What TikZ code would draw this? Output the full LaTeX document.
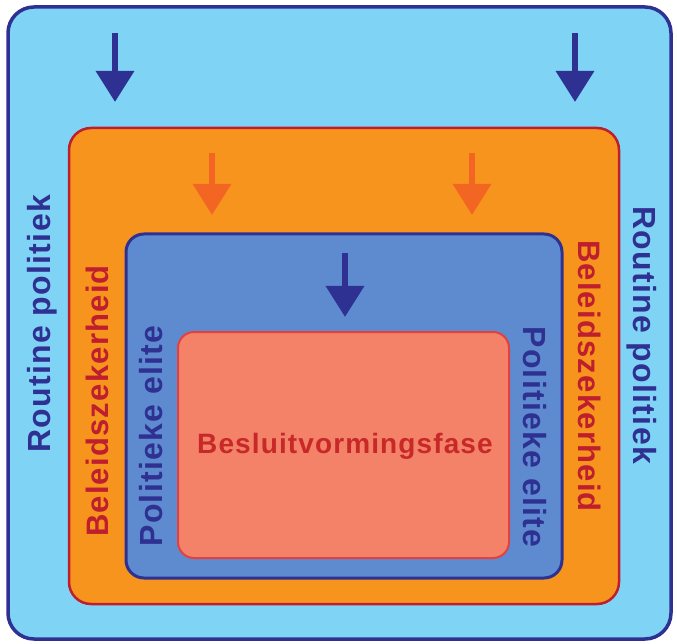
\documentclass[tikz,border=0pt]{standalone}
\usepackage{fontspec}
\newfontfamily\lsans[LetterSpace=4.0]{Liberation Sans}
\usetikzlibrary{arrows.meta}
\definecolor{skyfill}{RGB}{127,211,245}
\definecolor{navy}{RGB}{46,49,146}
\definecolor{orangefill}{RGB}{247,148,29}
\definecolor{redline}{RGB}{190,30,45}
\definecolor{midblue}{RGB}{94,139,207}
\definecolor{salmon}{RGB}{243,130,105}
\definecolor{salmonline}{RGB}{225,65,65}
\definecolor{arroworange}{RGB}{242,101,34}
\definecolor{textred}{RGB}{200,40,40}
\tikzset{
  box/.style={rounded corners=#1},
  lbl/.style={font=\lsans\bfseries, inner sep=0pt, anchor=base},
  downarrow/.style={line width=6.5pt, -{Triangle[width=37pt,length=31pt]}},
}
\begin{document}
\begin{tikzpicture}[x=1pt,y=-1pt]
\useasboundingbox (0,0) rectangle (677,644);
% nested boxes
\draw[box=26pt, fill=skyfill, draw=navy, line width=3.5pt] (8,7) rectangle (671,639);
\draw[box=22pt, fill=orangefill, draw=redline, line width=2.5pt] (69,128) rectangle (619,604);
\draw[box=18pt, fill=midblue, draw=navy, line width=3pt] (126,234) rectangle (562,578);
\draw[box=16pt, fill=salmon, draw=salmonline, line width=2pt] (178,332) rectangle (509,558);
% arrow end points
\coordinate (b1s) at (115,33);  \coordinate (b1e) at (115,102);
\coordinate (b2s) at (575,33);  \coordinate (b2e) at (575,102);
\coordinate (o1s) at (212,153); \coordinate (o1e) at (212,215);
\coordinate (o2s) at (472,153); \coordinate (o2e) at (472,215);
\coordinate (m1s) at (345,253); \coordinate (m1e) at (345,317);
\draw[downarrow, navy] (b1s) -- (b1e);
\draw[downarrow, navy] (b2s) -- (b2e);
\draw[downarrow, arroworange] (o1s) -- (o1e);
\draw[downarrow, arroworange] (o2s) -- (o2e);
\draw[downarrow, navy] (m1s) -- (m1e);
% labels
\node[lbl, rotate=90, text=navy, font=\lsans\bfseries\fontsize{32}{36}\selectfont] (rpl) at (50,324) {Routine politiek};
\node[lbl, rotate=-90, text=navy, font=\lsans\bfseries\fontsize{32}{36}\selectfont] (rpr) at (633,335) {Routine politiek};
\node[lbl, rotate=90, text=redline, font=\lsans\bfseries\fontsize{31}{36}\selectfont] (bzl) at (108,401) {Beleidszekerheid};
\node[lbl, rotate=-90, text=redline, font=\lsans\bfseries\fontsize{31}{36}\selectfont] (bzr) at (578,376) {Beleidszekerheid};
\node[lbl, rotate=90, text=navy, font=\lsans\bfseries\fontsize{32}{36}\selectfont] (pel) at (162,436) {Politieke elite};
\node[lbl, rotate=-90, text=navy, font=\lsans\bfseries\fontsize{32}{36}\selectfont] (per) at (523,437) {Politieke elite};
\node[lbl, text=textred, font=\lsans\bfseries\fontsize{28}{32}\selectfont] (bvf) at (345,453) {Besluitvormingsfase};
\end{tikzpicture}
\end{document}
